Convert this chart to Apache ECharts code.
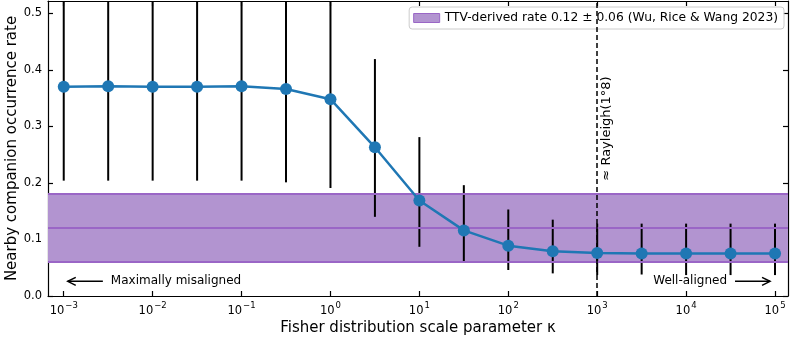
<!DOCTYPE html>
<html>
<head>
<meta charset="utf-8">
<script src="https://cdn.jsdelivr.net/npm/echarts@6/dist/echarts.min.js"></script>
<style>
  html, body { margin: 0; padding: 0; background: #fff; }
  #main { width: 792px; height: 341px; }
</style>
</head>
<body>
<div id="main"></div>
<script>
// log10(kappa) of each point
var kappaExp = [-3, -2.5, -2, -1.5, -1, -0.5, 0, 0.5, 1, 1.5, 2, 2.5, 3, 3.5, 4, 4.5, 5];
var rate  = [0.370, 0.371, 0.370, 0.370, 0.371, 0.366, 0.348, 0.263, 0.169, 0.116, 0.089, 0.079, 0.076, 0.075, 0.075, 0.075, 0.075];
var errLo = [0.204, 0.204, 0.204, 0.204, 0.204, 0.201, 0.191, 0.140, 0.087, 0.059, 0.046, 0.040, 0.037, 0.038, 0.037, 0.037, 0.037];
var errHi = [0.540, 0.540, 0.540, 0.540, 0.540, 0.535, 0.530, 0.419, 0.281, 0.196, 0.153, 0.135, 0.128, 0.128, 0.128, 0.128, 0.128];
var xTicks = [-3, -2, -1, 0, 1, 2, 3, 4, 5];
var yTicks = [0, 0.1, 0.2, 0.3, 0.4, 0.5];
var ttvRate = 0.12, ttvErr = 0.06;
var rayleighExp = 3;

var X_MIN = -3.177, X_MAX = 5.146, Y_MAX = 0.5217;
var FONT = 'DejaVu Sans';
var PURPLE_FILL = '#b294d0', PURPLE_LINE = '#9a66c6';
var BAND_NAME = 'TTV-derived rate 0.12 \u00b1 0.06 (Wu, Rice & Wang 2023)';

var pts = kappaExp.map(function (x, i) { return [x, rate[i]]; });
var bars = kappaExp.map(function (x, i) { return [x, errLo[i], errHi[i]]; });

function supLabel(v) {
    var s = v < 0 ? '\u2212' + (-v) : '' + v;
    return '{b|10}{s|' + s + '}';
}

var axisLine = { show: true, onZero: false, lineStyle: { color: '#000', width: 1.2 } };
function ticks(vals) {
    return { show: true, inside: true, length: 5, lineStyle: { color: '#000', width: 1.2 }, customValues: vals };
}

var option = {
    animation: false,
    backgroundColor: '#fff',
    textStyle: { fontFamily: FONT },
    grid: { left: 48, right: 4, top: 1, bottom: 45, outerBoundsMode: 'none' },
    legend: {
        right: 8, top: 7,
        padding: [5, 6, 5, 4],
        itemWidth: 26, itemHeight: 9, itemGap: 8,
        backgroundColor: 'rgba(255,255,255,0.85)',
        borderColor: '#cccccc', borderWidth: 1, borderRadius: 3,
        textStyle: { fontFamily: FONT, fontSize: 12.3, color: '#000' },
        data: [{ name: BAND_NAME, icon: 'rect',
                 itemStyle: { color: PURPLE_FILL, borderColor: PURPLE_LINE, borderWidth: 1 } }]
    },
    xAxis: [{
        type: 'value', min: X_MIN, max: X_MAX,
        name: 'Fisher distribution scale parameter \u03ba',
        nameLocation: 'middle', nameGap: 25, nameMoveOverlap: false,
        nameTextStyle: { fontFamily: FONT, fontSize: 15, color: '#000' },
        axisLine: axisLine, splitLine: { show: false },
        axisTick: ticks(xTicks),
        axisLabel: {
            customValues: xTicks, margin: 5, color: '#000',
            formatter: supLabel,
            rich: {
                b: { fontFamily: FONT, fontSize: 11.5, color: '#000', lineHeight: 16, verticalAlign: 'bottom' },
                s: { fontFamily: FONT, fontSize: 8.5, color: '#000', lineHeight: 16, verticalAlign: 'top', padding: [0, 0, 4, 1] }
            }
        }
    }, {
        type: 'value', min: X_MIN, max: X_MAX, position: 'top',
        axisLine: axisLine, splitLine: { show: false },
        axisTick: ticks(xTicks),
        axisLabel: { show: false }
    }],
    yAxis: [{
        type: 'value', min: 0, max: Y_MAX,
        name: 'Nearby companion occurrence rate',
        nameLocation: 'middle', nameGap: 28, nameRotate: 90, nameMoveOverlap: false,
        nameTextStyle: { fontFamily: FONT, fontSize: 15, color: '#000' },
        axisLine: axisLine, splitLine: { show: false },
        axisTick: ticks(yTicks),
        axisLabel: { customValues: yTicks, margin: 6, color: '#000', fontFamily: FONT, fontSize: 11.5,
                     formatter: function (v) { return v.toFixed(1); } }
    }, {
        type: 'value', min: 0, max: Y_MAX, position: 'right',
        axisLine: axisLine, splitLine: { show: false },
        axisTick: ticks(yTicks),
        axisLabel: { show: false }
    }],
    series: [
        {
            // TTV band
            name: BAND_NAME,
            type: 'line', data: [], z: 1,
            itemStyle: { color: PURPLE_FILL },
            markArea: {
                silent: true,
                itemStyle: { color: PURPLE_FILL, opacity: 1 },
                data: [[{ yAxis: ttvRate - ttvErr }, { yAxis: ttvRate + ttvErr }]]
            },
            markLine: {
                silent: true, symbol: 'none', label: { show: false },
                lineStyle: { color: PURPLE_LINE, width: 2, type: 'solid' },
                data: [{ yAxis: ttvRate - ttvErr }, { yAxis: ttvRate }, { yAxis: ttvRate + ttvErr }]
            }
        },
        {
            // Rayleigh reference line
            type: 'line', data: [], z: 3,
            markLine: {
                silent: true, symbol: 'none', label: { show: false },
                lineStyle: { color: '#000', width: 1.5, type: [5, 3] },
                data: [{ xAxis: rayleighExp }]
            }
        },
        {
            type: 'custom', z: 4, clip: true,
            data: bars,
            encode: { x: 0, y: [1, 2] },
            renderItem: function (params, api) {
                var x = api.value(0);
                var p1 = api.coord([x, api.value(1)]);
                var p2 = api.coord([x, Math.min(api.value(2), Y_MAX)]);
                return { type: 'line', shape: { x1: p1[0], y1: p1[1], x2: p2[0], y2: p2[1] },
                         style: { stroke: '#000', lineWidth: 2 } };
            }
        },
        {
            type: 'line', z: 5, data: pts,
            symbol: 'circle', symbolSize: 12,
            lineStyle: { color: '#1f77b4', width: 2.5 },
            itemStyle: { color: '#1f77b4' }
        }
    ]
};

var myChart = echarts.init(document.getElementById('main'), null, { renderer: 'canvas' });
myChart.setOption(option);

// annotations placed in data coordinates
function px(x, y) { return myChart.convertToPixel({ gridIndex: 0 }, [x, y]); }
function arrow(from, to) {
    var sgn = to[0] < from[0] ? 1 : -1;
    return [
        { type: 'line', shape: { x1: from[0], y1: from[1], x2: to[0], y2: to[1] }, style: { stroke: '#000', lineWidth: 1.5 } },
        { type: 'polyline', shape: { points: [[to[0] + sgn * 8, to[1] - 4], [to[0], to[1]], [to[0] + sgn * 8, to[1] + 4]] },
          style: { stroke: '#000', lineWidth: 1.5, fill: null } }
    ];
}
var yArrow = 0.026;
var aL1 = px(-2.56, yArrow), aL2 = px(-2.955, yArrow);
var aR1 = px(4.55, yArrow), aR2 = px(4.944, yArrow);
var tRay = px(rayleighExp, 0.204);
var gfx = [].concat(arrow(aL1, aL2), arrow(aR1, aR2), [
    { type: 'text', x: aL1[0] + 8, y: aL1[1], z: 10, style: { text: 'Maximally misaligned', font: '12px "DejaVu Sans"', fill: '#000', verticalAlign: 'middle', align: 'left' } },
    { type: 'text', x: aR1[0] - 8, y: aR1[1], z: 10, style: { text: 'Well-aligned', font: '12px "DejaVu Sans"', fill: '#000', verticalAlign: 'middle', align: 'right' } },
    { type: 'text', x: tRay[0] + 3, y: tRay[1], rotation: Math.PI / 2, z: 10,
      style: { text: '\u2248 Rayleigh(1\u00b08)', font: '13px "DejaVu Sans"', fill: '#000', align: 'left', verticalAlign: 'top' } }
]);
myChart.setOption({ graphic: gfx });
</script>
</body>
</html>
